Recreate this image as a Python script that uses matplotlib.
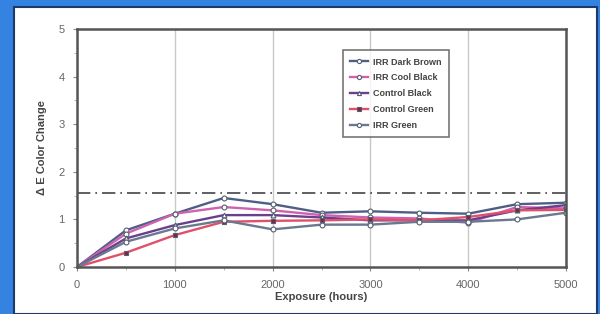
import matplotlib.pyplot as plt
from matplotlib.patches import Rectangle

plt.rcParams['font.family'] = ['Liberation Sans', 'DejaVu Sans']

hours = [0, 500, 1000, 1500, 2000, 2500, 3000, 3500, 4000, 4500, 5000]
irr_dark_brown = [0, 0.77, 1.12, 1.45, 1.32, 1.14, 1.17, 1.14, 1.12, 1.32, 1.35]
irr_cool_black = [0, 0.70, 1.12, 1.26, 1.19, 1.09, 1.04, 1.02, 0.93, 1.26, 1.23]
control_black = [0, 0.60, 0.88, 1.09, 1.09, 1.04, 0.98, 0.98, 0.98, 1.19, 1.30]
control_green = [0, 0.30, 0.67, 0.95, 0.97, 0.98, 1.00, 0.98, 1.05, 1.19, 1.20]
irr_green = [0, 0.53, 0.81, 0.98, 0.79, 0.89, 0.89, 0.95, 0.95, 1.00, 1.14]
threshold = 1.55

fig = plt.figure(figsize=(6, 3.14), dpi=100)
fig.patch.set_facecolor('#3583e0')
# white panel behind the axes
fig.patches.append(Rectangle((14 / 600, 0), 583 / 600, 1 - 7 / 314,
                             transform=fig.transFigure, facecolor='white',
                             edgecolor='#1c3a6e', linewidth=1.5, zorder=-5))

ax = fig.add_axes([77 / 600, 47 / 314, 489 / 600, 238 / 314])
ax.set_zorder(2)
ax.set_facecolor('white')

series = [
    ('IRR Dark Brown', irr_dark_brown, '#4e5f86', 'o', 'white'),
    ('IRR Cool Black', irr_cool_black, '#d060b0', 'o', 'white'),
    ('Control Black', control_black, '#6a3f8c', '^', 'white'),
    ('Control Green', control_green, '#e0506a', 's', '#8a2040'),
    ('IRR Green', irr_green, '#6a7890', 'o', 'white'),
]
for name, vals, col, mk, mfc in series:
    ax.plot(hours, vals, color=col, linewidth=1.7, marker=mk, markersize=3.5,
            markerfacecolor=mfc, markeredgecolor='#555e70', markeredgewidth=0.8,
            label=name)

ax.axhline(threshold, color='#444444', linewidth=1.2, linestyle=(0, (8, 3, 1, 3)))

ax.set_xlim(0, 5000)
ax.set_ylim(0, 5)
ax.set_xticks(range(0, 5001, 1000))
ax.set_xticks(range(0, 5001, 500), minor=True)
ax.set_yticks(range(0, 6))
ax.set_yticks([0.5, 1.5, 2.5, 3.5, 4.5], minor=True)
ax.grid(axis='x', which='major', color='#c8c8c8', linewidth=1)
ax.tick_params(axis='both', colors='#888888', labelcolor='#666666', labelsize=8,
               length=3, pad=6)
ax.tick_params(which='minor', colors='#aaaaaa', length=2)
for s in ax.spines.values():
    s.set_color('#555555')
    s.set_linewidth(1.8)

ax.set_xlabel('Exposure (hours)', fontsize=8, fontweight='bold', color='#444444',
              labelpad=2)
ax.set_ylabel('Δ E Color Change', fontsize=8, fontweight='bold', color='#444444',
              labelpad=8)

leg = ax.legend(loc='upper left', bbox_to_anchor=(0.544, 0.91), fontsize=6.5,
                frameon=True, fancybox=False, edgecolor='#555555',
                borderpad=0.8, labelspacing=0.75, handlelength=2.0,
                handletextpad=0.5, borderaxespad=0, markerscale=0.85)
leg.get_frame().set_linewidth(1.2)
for t in leg.get_texts():
    t.set_fontweight('bold')
    t.set_color('#444444')

fig.savefig('out.png', dpi=100, facecolor=fig.get_facecolor())
